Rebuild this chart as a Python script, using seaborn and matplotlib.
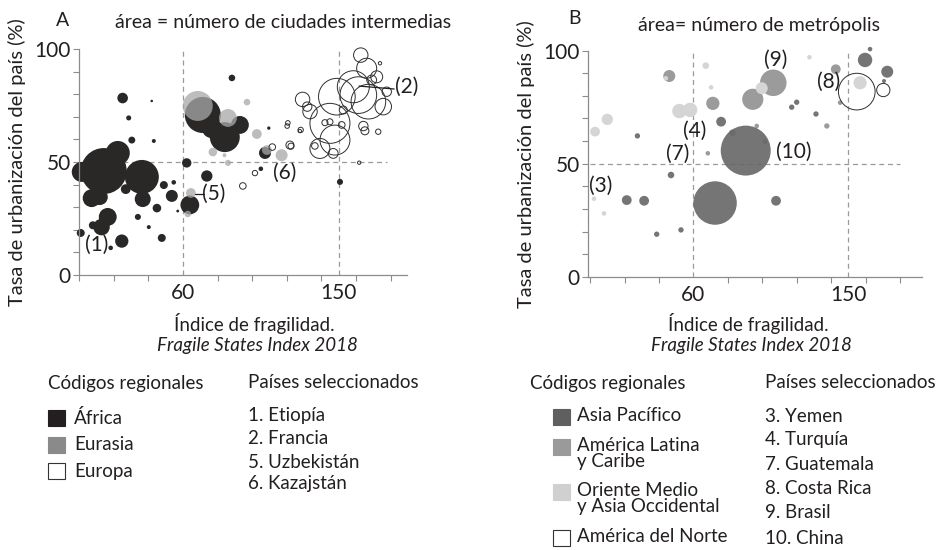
import matplotlib
matplotlib.use("Agg")
import matplotlib.pyplot as plt
from matplotlib.patches import Rectangle
import seaborn as sns

# Panel A: area = number of intermediate cities ##############################

africa_x = [14.3, 22.4, 1.6, 7.3, 12.0, 36.3, 36.8, 27.0, 30.5, 43.2, 49.0, 54.7, 53.6, 45.0,
            34.0, 40.3, 47.8, 57.0, 62.2, 64.0, 73.8, 16.6, 13.0, 24.7, 8.0, 1.0, 18.3,
            28.7, 25.2, 42.0, 71.5, 84.2, 92.9, 76.7, 88.3, 109.6, 107.4, 105.0, 150.7]
africa_y = [46.0, 54.0, 45.6, 34.0, 34.5, 43.4, 33.6, 38.0, 59.7, 59.3, 39.8, 41.0, 35.0, 29.6,
            25.7, 21.2, 16.4, 28.3, 49.6, 31.0, 43.8, 25.7, 21.2, 15.0, 22.0, 18.6, 12.0,
            69.5, 78.3, 77.0, 70.8, 61.0, 66.4, 65.0, 87.2, 65.0, 54.0, 47.0, 41.2]
africa_n = [132, 36, 25, 20, 16, 72, 16, 6, 3, 1, 4, 1.3, 9, 4.6,
            2.3, 1, 4, 0.5, 5.5, 22, 8, 20, 17, 11, 4, 4, 1.3,
            1.6, 7, 0.4, 81, 56, 20, 25, 2.7, 0.7, 9, 1.3, 2.3]

eurasia_x = [68.6, 86.0, 97.0, 102.7, 77.3, 86.0, 84.0, 108.5, 117.0, 64.6, 62.8]
eurasia_y = [74.8, 69.5, 76.5, 62.4, 54.4, 49.6, 53.0, 55.3, 53.0, 36.3, 27.0]
eurasia_n = [56, 20, 2.7, 6, 4.6, 2.3, 1, 6, 9, 6, 2.7]

europe_x = [148.9, 161.3, 167.1, 158.4, 144.9, 147.8, 139.1, 146.8, 162.7, 166.1, 173.8, 171.9,
            177.7, 175.7, 169.0, 129.1, 133.4, 131.8, 152.6, 142.0, 144.9, 151.7, 164.2, 165.1,
            172.8, 136.2, 121.8, 128.0, 120.2, 161.8, 111.6, 122.4, 120.6, 127.5, 94.6, 101.6]
europe_y = [78.9, 79.6, 76.7, 83.3, 67.1, 59.7, 56.0, 53.8, 97.3, 91.5, 93.7, 87.7,
            81.1, 74.5, 86.3, 77.7, 72.3, 74.5, 73.0, 67.4, 67.8, 66.4, 65.9, 63.8,
            63.4, 57.1, 57.5, 64.2, 65.9, 49.7, 56.6, 57.0, 67.3, 63.7, 39.4, 45.1]
europe_n = [84, 84, 75, 64, 100, 56, 25, 6, 13, 25, 0.7, 9,
            5.5, 17, 6, 13, 13, 5.5, 4, 2.3, 2.3, 2.8, 5.5, 4,
            1.8, 2.7, 4, 1.8, 1.3, 0.7, 2.7, 2.3, 1.3, 0.7, 2.7, 1.8]

# Panel B: area = number of metropolises #####################################

asia_x = [90.4, 72.6, 21.3, 31.4, 108.0, 47.0, 38.7, 52.8, 27.5, 76.1, 117.1, 120.0,
          131.2, 159.7, 172.6, 162.6, 170.7]
asia_y = [55.8, 32.6, 33.9, 33.6, 33.6, 45.0, 18.8, 20.7, 62.3, 68.6, 75.0, 77.2,
          72.0, 95.9, 90.7, 100.7, 86.6]
asia_n = [156, 118, 6, 6, 6, 2.7, 1.8, 1.8, 1.8, 6, 1.8, 1.8,
          1.8, 13, 9, 1.3, 1]

latam_x = [46.0, 106.4, 94.5, 71.3, 142.7, 137.5, 145.2, 68.4, 82.6, 101.6, 96.8]
latam_y = [88.8, 85.8, 78.5, 76.7, 91.8, 66.7, 77.0, 54.6, 63.7, 59.7, 66.7]
latam_n = [9, 44, 28, 11, 6, 1.8, 1.3, 1.3, 2.7, 1.3, 1.3]

mideast_x = [2.9, 10.0, 51.9, 58.1, 67.2, 70.3, 99.7, 127.4, 156.8, 2.3, 8.1, 44.0]
mideast_y = [64.2, 69.6, 73.3, 73.8, 93.4, 83.8, 83.4, 97.1, 85.8, 34.5, 28.0, 87.8]
mideast_n = [6, 8, 13, 13, 2.7, 1.3, 9, 1.3, 11, 1.3, 1.3, 1.3]

namerica_x = [154.9, 170.3]
namerica_y = [81.9, 82.6]
namerica_n = [84, 11]

# country call-outs: (text, x, y)
labels_a = [("(1)", 10.2, 13.3), ("(2)", 189.0, 83.2), ("(5)", 78.0, 35.8), ("(6)", 118.9, 45.1)]
labels_b = [("(3)", 6.2, 40.1), ("(4)", 61.0, 64.5), ("(7)", 51.1, 54.3),
            ("(8)", 138.8, 86.3), ("(9)", 108.0, 95.9), ("(10)", 118.5, 55.3)]

legend_a = ["África", "Eurasia", "Europa"]
countries_a = ["1. Etiopía", "2. Francia", "5. Uzbekistán", "6. Kazajstán"]
legend_b = ["Asia Pacífico", "América Latina\ny Caribe", "Oriente Medio\ny Asia Occidental",
            "América del Norte"]
countries_b = ["3. Yemen", "4. Turquía", "7. Guatemala", "8. Costa Rica", "9. Brasil", "10. China"]

# Style #######################################################################

sns.set_theme(style="ticks")
plt.rcParams["font.family"] = ["Lato", "DejaVu Sans"]
TXT = "#231f20"
AX = "#8c8c8c"
FS = 13.5

W, H = 937, 550
fig = plt.figure(figsize=(W / 100, H / 100), dpi=100)


def fx(px):
    return px / W


def fy(py):
    return 1 - py / H


N_MAX = 400
S_MAX = 2.0736 * 4 * N_MAX   # n = r_px^2 / 4


def bubbles(ax, xs, ys, ns, **kw):
    sns.scatterplot(x=xs, y=ys, size=ns, sizes=(0, S_MAX), size_norm=(0, N_MAX),
                    legend=False, ax=ax, clip_on=False, **kw)


def style_axis(ax, xmin, xmax, hline_end):
    ax.set_xlim(xmin, xmax)
    ax.set_ylim(0, 100)
    for s in ["top", "right"]:
        ax.spines[s].set_visible(False)
    for s in ["left", "bottom"]:
        ax.spines[s].set_color(AX)
        ax.spines[s].set_linewidth(0.9)
    ax.set_xticks([60, 150])
    ax.set_xticks(range(0, 181, 20), minor=True)
    ax.set_yticks([0, 50, 100])
    ax.set_yticks(range(0, 101, 10), minor=True)
    ax.tick_params(which="both", direction="out", length=4, width=0.8, color=AX,
                   labelsize=15, labelcolor=TXT, pad=2)
    ax.tick_params(axis="x", which="major", length=0, pad=6)
    ax.vlines([60, 150], 0, 100, colors="#9a9a9a", linestyles=(0, (4, 3)), linewidth=0.9, zorder=0)
    ax.hlines(50, 0, hline_end, colors="#9a9a9a", linestyles=(0, (4, 3)), linewidth=0.9, zorder=0)
    ax.set_ylabel("Tasa de urbanización del país (%)", fontsize=14.5, color=TXT, labelpad=6)
    ax.set_xlabel("")
    ax.patch.set_alpha(0)


# Panel A ####################################################################

ax_a = fig.add_axes([fx(79), fy(275), fx(407 - 79), (275 - 49) / H])
bubbles(ax_a, africa_x, africa_y, africa_n, color="#2a2727", edgecolor="none", zorder=2)
bubbles(ax_a, eurasia_x, eurasia_y, eurasia_n, color="#a8a8a8", alpha=0.76, edgecolor="none", zorder=3)
bubbles(ax_a, europe_x, europe_y, europe_n, facecolor="none", edgecolor="#2f2f2f",
        linewidth=0.7, zorder=4)
style_axis(ax_a, 0, 189.4, 178)
for t, x, y in labels_a:
    ax_a.text(x, y, t, fontsize=15, color=TXT, ha="center", va="center", zorder=6)
ax_a.plot([161.7, 182.0], [83.6, 82.3], color=TXT, lw=0.9, zorder=6)
ax_a.plot([66.9, 72.0], [36.0, 36.0], color=TXT, lw=0.9, zorder=6)

# Panel B ####################################################################

ax_b = fig.add_axes([fx(588), fy(276.7), fx(921.7 - 588), (276.7 - 50.7) / H])
bubbles(ax_b, latam_x, latam_y, latam_n, color="#9b9b9b", edgecolor="none", zorder=2)
bubbles(ax_b, mideast_x, mideast_y, mideast_n, color="#d5d5d5", edgecolor="none", zorder=2)
bubbles(ax_b, asia_x, asia_y, asia_n, color="#666666", alpha=0.9, edgecolor="none", zorder=3)
bubbles(ax_b, namerica_x, namerica_y, namerica_n, facecolor="none", edgecolor="#2f2f2f",
        linewidth=0.7, zorder=4)
style_axis(ax_b, -1.2, 192.6, 180)
for t, x, y in labels_b:
    ax_b.text(x, y, t, fontsize=15, color=TXT, ha="center", va="center", zorder=6)

# Titles and axis captions ###################################################

fig.text(fx(63), fy(20), "A", fontsize=14, color=TXT, ha="center", va="center")
fig.text(fx(115), fy(22), "área = número de ciudades intermedias", fontsize=14, color=TXT, va="center")
fig.text(fx(575), fy(18), "B", fontsize=14, color=TXT, ha="center", va="center")
fig.text(fx(638), fy(25), "área= número de metrópolis", fontsize=14, color=TXT, va="center")

for cx in (254, 748):
    fig.text(fx(cx), fy(323), "Índice de fragilidad.", fontsize=FS, color=TXT, ha="center", va="center")
    fig.text(fx(cx + 3), fy(345), "Fragile States Index 2018", fontsize=FS, color=TXT,
             ha="center", va="center", style="italic")

# Legends ####################################################################


def swatch(px, py, fc):
    fig.add_artist(Rectangle((fx(px), fy(py + 8)), 17 / W, 16 / H, transform=fig.transFigure,
                             facecolor=fc, edgecolor="#333333" if fc == "white" else fc, lw=0.8))


fig.text(fx(48), fy(383), "Códigos regionales", fontsize=FS, color=TXT, va="center")
fig.text(fx(248), fy(383), "Países seleccionados", fontsize=FS, color=TXT, va="center")
for lab, py, fc in zip(legend_a, [418, 445, 471], ["#231f20", "#8a8a8a", "white"]):
    swatch(48, py, fc)
    fig.text(fx(74), fy(py), lab, fontsize=FS, color=TXT, va="center")
for lab, py in zip(countries_a, [416, 439, 462, 484]):
    fig.text(fx(248), fy(py), lab, fontsize=FS, color=TXT, va="center")

fig.text(fx(530), fy(383), "Códigos regionales", fontsize=FS, color=TXT, va="center")
fig.text(fx(765), fy(383), "Países seleccionados", fontsize=FS, color=TXT, va="center")
for lab, py, fc in zip(legend_b, [417, 447, 492, 538], ["#5f5f5f", "#9a9a9a", "#d0d0d0", "white"]):
    swatch(553, py, fc)
    fig.text(fx(577), fy(py - 10), lab, fontsize=FS, color=TXT, va="top", linespacing=0.95)
for lab, py in zip(countries_b, [417, 440, 465, 488, 513, 538]):
    fig.text(fx(765), fy(py), lab, fontsize=FS, color=TXT, va="center")

fig.savefig("out.png", dpi=100)
